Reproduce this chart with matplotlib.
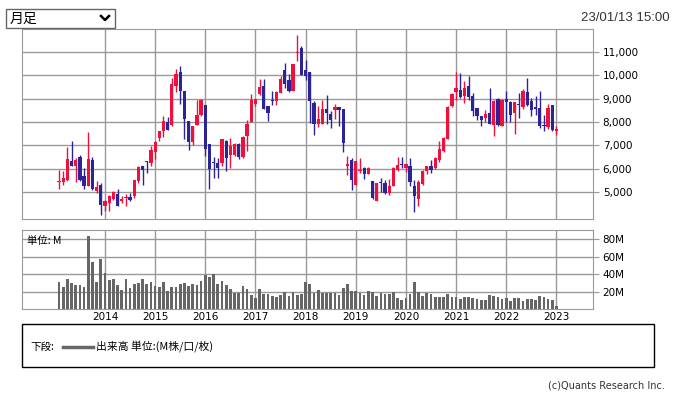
import matplotlib
matplotlib.use("Agg")
import matplotlib.pyplot as plt
from matplotlib.patches import Rectangle
from matplotlib.lines import Line2D

# monthly candles, Feb 2013 .. Jan 2023 (prices in yen)
opens = [5420, 5410, 5530, 6340, 6100, 6490, 5670, 5240, 6390, 5030, 5310,
         4390, 4530, 4710, 4930, 4600, 4740, 4770, 4810, 5460, 6100, 6310, 6240,
         6700, 7310, 7600, 8000, 7860, 9530, 10140, 9340, 8030, 7130, 7890, 8310,
         8740, 7070, 6300, 6240, 6240, 7200, 6600, 6600, 7070, 6490, 7410, 7990,
         8790, 9200, 9560, 8670, 8930, 8890, 9240, 10240, 9810, 9340, 10960, 11170,
         10240, 10140, 8810, 7930, 7930, 8570, 8330, 8500, 8640, 8570, 6130, 6390,
         5290, 5900, 6030, 5790, 5490, 4630, 5430, 5390, 4960, 5240, 5960, 6200,
         6030, 6130, 5270, 4710, 5340, 5890, 6130, 6030, 6360, 6740, 7290, 8670,
         9270, 9390, 9130, 9560, 9130, 8600, 8270, 8170, 8390, 7890, 9000, 7810,
         8990, 8840, 8390, 8770, 8640, 9290, 8890, 8660, 8600, 7890, 7790, 8740,
         7600]
highs = [5960, 5890, 6910, 7200, 6460, 6600, 6030, 7560, 6490, 5460, 5390,
         4670, 4890, 5030, 5140, 4810, 4910, 4960, 5530, 6100, 6100, 6340, 6990,
         7200, 7630, 8270, 8200, 9890, 10270, 10410, 9340, 8030, 7840, 8930, 8990,
         8740, 7070, 6490, 6460, 7270, 7240, 7310, 7100, 7100, 7410, 8070, 9200,
         9000, 9840, 9840, 8670, 9340, 9340, 9960, 10530, 10060, 10500, 11740, 11270,
         10670, 10140, 8910, 8700, 8960, 9170, 8460, 8790, 8640, 8570, 6530, 6460,
         6340, 6460, 6060, 6060, 5490, 5390, 5600, 5500, 5560, 6060, 6510, 6490,
         6210, 6460, 5500, 5530, 5960, 6130, 6390, 6500, 7170, 7360, 8670, 9240,
         10160, 10100, 9770, 9960, 9240, 8600, 8270, 8530, 9460, 8930, 9040, 9000,
         9310, 8890, 8840, 9240, 9410, 9890, 9040, 9100, 9340, 8310, 8790, 8740,
         7810]
lows = [5130, 5310, 5460, 6100, 5410, 5460, 5140, 5240, 5100, 4960, 4030,
        4170, 4170, 4670, 4390, 4530, 4390, 4600, 4740, 5390, 5290, 5810, 6100,
        6410, 7170, 7340, 7670, 7810, 9270, 8790, 7270, 6790, 7030, 7890, 8270,
        6530, 5140, 5600, 5590, 6100, 5910, 6030, 6530, 6410, 6460, 6740, 7990,
        8700, 9140, 8570, 8030, 8740, 8740, 9240, 9460, 9270, 9340, 10600, 10000,
        9810, 7960, 7460, 7790, 7930, 7930, 7740, 8130, 7810, 6700, 5740, 5100,
        5290, 5810, 5570, 5760, 4700, 4630, 4990, 4910, 4860, 5240, 5890, 6030,
        5840, 5240, 4130, 4390, 5310, 5790, 5810, 5990, 6270, 6700, 7290, 8640,
        8930, 9030, 8810, 8960, 8240, 8100, 7810, 8000, 7930, 7390, 7840, 7810,
        8000, 7990, 7500, 8170, 8570, 8700, 8270, 8310, 7740, 7600, 7700, 7600,
        7460]
closes = [5480, 5600, 6410, 6100, 6390, 5530, 5240, 6430, 5130, 5210, 4430,
          4630, 4810, 4990, 4410, 4710, 4780, 4670, 5500, 6060, 5930, 6270, 6790,
          7130, 7600, 8060, 7670, 9640, 10070, 9340, 8140, 7130, 7840, 8310, 8930,
          6840, 5990, 6230, 6030, 7270, 6460, 6990, 7060, 6490, 7340, 7930, 8960,
          8990, 9490, 8570, 8370, 8890, 9270, 9860, 9640, 9340, 10500, 11000, 10000,
          9960, 8890, 7930, 8140, 8570, 8390, 8070, 8640, 8500, 7100, 6200, 5530,
          6340, 5960, 5790, 6030, 4740, 5390, 5390, 4960, 5240, 6030, 6170, 6170,
          6210, 5410, 4810, 5430, 5890, 6130, 5930, 6460, 6840, 7310, 8640, 9210,
          9460, 9060, 9460, 9060, 8460, 8270, 8070, 8360, 7930, 8890, 7890, 8930,
          8840, 8310, 8840, 8710, 9340, 8740, 8500, 8570, 7810, 7810, 8600, 7640,
          7710]
# volume in millions of shares
volume = [30.9, 25.1, 34.3, 29.7, 27.4, 27.4, 25.1, 83.4, 53.7, 30.9, 57.1,
          41.1, 33.1, 34.3, 27.4, 21.7, 34.3, 24.0, 28.6, 29.7, 34.3, 28.6, 30.9,
          26.3, 25.1, 30.9, 20.6, 25.1, 25.1, 28.6, 29.7, 26.3, 28.6, 27.4, 32.0,
          38.9, 36.6, 40.0, 28.6, 32.0, 27.4, 22.9, 18.3, 18.3, 26.3, 22.9, 16.0,
          12.6, 22.9, 17.1, 17.1, 14.9, 13.7, 16.0, 19.4, 14.9, 19.4, 16.0, 17.1,
          30.9, 28.6, 18.3, 21.7, 18.3, 18.3, 18.3, 18.3, 16.0, 24.0, 28.6, 20.6,
          20.6, 18.3, 16.0, 20.6, 19.4, 14.9, 18.3, 17.1, 17.1, 19.4, 12.6, 10.3,
          12.6, 17.1, 30.9, 19.4, 14.9, 18.3, 17.1, 13.7, 13.7, 13.7, 17.1, 13.7,
          13.7, 11.4, 13.7, 13.7, 12.6, 11.4, 10.3, 10.3, 16.0, 14.9, 13.7, 11.4,
          12.6, 9.1, 12.6, 12.6, 9.1, 11.4, 11.4, 10.3, 14.9, 13.7, 11.4, 10.3,
          3.4]

years = ["2014", "2015", "2016", "2017", "2018", "2019", "2020", "2021", "2022", "2023"]
year_pos = [11, 23, 35, 47, 59, 71, 83, 95, 107, 119]  # month index of each January
price_ticks = [5000, 6000, 7000, 8000, 9000, 10000, 11000]
vol_ticks = [20, 40, 60, 80]

RED = "#f0103c"
BLUE = "#2b2499"
GRID = "#999999"
cjk = ["Noto Sans CJK JP", "DejaVu Sans"]

W, H = 676, 397
fig = plt.figure(figsize=(W / 100, H / 100), dpi=100)


def px_axes(x0, y0, x1, y1):
    """axes from pixel box (top-left origin)"""
    return fig.add_axes([x0 / W, 1 - y1 / H, (x1 - x0) / W, (y1 - y0) / H])


months = list(range(len(opens)))
xlim = (-8.85, 127.75)

# --- price panel
ax = px_axes(22, 29, 593, 219)
ax.set_xlim(*xlim)
ax.set_ylim(3843, 11986)
for i in months:
    o, h, l, c = opens[i], highs[i], lows[i], closes[i]
    col = RED if c >= o else BLUE
    ax.vlines(i, l, h, color=col, lw=1.0, zorder=3)
    body = max(abs(c - o), 45)
    ax.bar(i, body, bottom=min(o, c), width=0.78, color=col, lw=0, zorder=3)

ax.set_yticks(price_ticks)
ax.set_yticklabels([f"{p:,}" for p in price_ticks])
ax.set_xticks(year_pos)
ax.set_xticklabels([])
ax.yaxis.tick_right()
ax.tick_params(axis="y", direction="out", length=4, color=GRID, labelsize=7.5, pad=3)
ax.tick_params(axis="x", length=0)
ax.grid(True, color=GRID, lw=1)
ax.set_axisbelow(True)
for s in ax.spines.values():
    s.set_color(GRID)

# --- volume panel
av = px_axes(22, 230, 593, 309)
av.set_xlim(*xlim)
av.set_ylim(0, 90.3)
av.bar(months, volume, width=0.65, color="#666666", lw=0, zorder=3)
av.set_yticks(vol_ticks)
av.set_yticklabels([f"{v}M" for v in vol_ticks])
av.set_xticks(year_pos)
av.set_xticklabels(years)
av.yaxis.tick_right()
av.tick_params(axis="y", direction="out", length=4, color=GRID, labelsize=7.5, pad=3)
av.tick_params(axis="x", length=0, labelsize=7.5, pad=2)
av.grid(True, color=GRID, lw=1)
av.set_axisbelow(True)
for s in av.spines.values():
    s.set_color(GRID)
av.text(0.008, 0.86, "単位: M", transform=av.transAxes, fontsize=7.5,
        family=cjk, va="center", ha="left", zorder=5)

# --- dropdown + timestamp on top
fig.patches.append(Rectangle((6 / W, 1 - 28 / H), 109 / W, 19 / H, transform=fig.transFigure,
                             fill=False, ec="#666666", lw=1))
fig.text(10 / W, 1 - 18.5 / H, "月足", fontsize=10, family=cjk, va="center", ha="left")
fig.lines.append(Line2D([101 / W, 105 / W, 109 / W], [1 - 16 / H, 1 - 20 / H, 1 - 16 / H],
                        transform=fig.transFigure, color="black", lw=1.8))
fig.text(670 / W, 1 - 18 / H, "23/01/13 15:00", fontsize=9.5, family="Liberation Sans",
         color="#333333", va="center", ha="right")

# --- legend box at the bottom
fig.patches.append(Rectangle((22 / W, 1 - 367 / H), 632 / W, 43 / H, transform=fig.transFigure,
                             fill=False, ec="black", lw=1))
fig.text(30 / W, 1 - 347 / H, "下段:", fontsize=7.6, family=cjk, va="center", ha="left")
fig.lines.append(Line2D([63 / W, 93 / W], [1 - 347 / H, 1 - 347 / H],
                        transform=fig.transFigure, color="#666666", lw=2.5))
fig.text(96 / W, 1 - 347 / H, "出来高 単位:(M株/口/枚)", fontsize=7.8, family=cjk,
         va="center", ha="left")
fig.text(665 / W, 1 - 385 / H, "(c)Quants Research Inc.", fontsize=7, family="DejaVu Sans",
         color="#333333", va="center", ha="right")

fig.savefig("out.png", dpi=100)
